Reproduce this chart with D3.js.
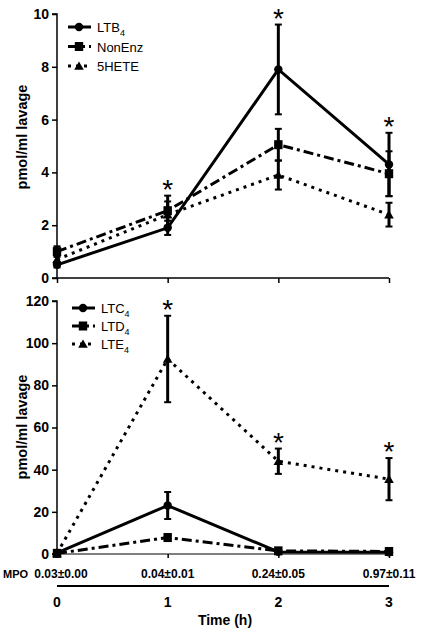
<!DOCTYPE html>
<html><head><meta charset="utf-8">
<script src="https://cdn.jsdelivr.net/npm/d3@7"></script>
<style>body{margin:0;background:#fff}svg{display:block}text{font-family:"Liberation Sans",Arial,sans-serif;font-weight:bold;fill:#000}</style>
</head><body><svg id="c" width="432" height="632"></svg>
<script>
const times = [0, 1, 2, 3];
const topTicks = [0, 2, 4, 6, 8, 10];
const bottomTicks = [0, 20, 40, 60, 80, 100, 120];
const mpoLabels = ["0.03\u00b10.00", "0.04\u00b10.01", "0.24\u00b10.05", "0.97\u00b10.11"];

const ltb4 = [0.5, 1.9, 7.9, 4.3];
const ltb4Err = [0.1, 0.27, 1.7, 1.2];
const nonEnz = [1.0, 2.55, 5.05, 3.95];
const nonEnzErr = [0.2, 0.57, 0.6, 0.85];
const hete5 = [0.7, 2.4, 3.9, 2.4];
const hete5Err = [0.15, 0.5, 0.55, 0.45];
const topSig = [false, true, true, true];

const ltc4 = [0.5, 23, 1.0, 0.8];
const ltc4Err = [0.3, 6.4, 0.5, 0.5];
const ltd4 = [0.3, 7.8, 1.5, 1.2];
const ltd4Err = [0.2, 1.5, 0.5, 0.5];
const lte4 = [0.3, 92.5, 44, 35.5];
const lte4Err = [0.2, 20.5, 6, 10];
const bottomSig = [false, true, true, true];

const svg = d3.select("#c");
const x = d3.scaleLinear().domain([0, 3]).range([57, 389]);
const yTop = d3.scaleLinear().domain([0, 10]).range([278, 14]);
const yBot = d3.scaleLinear().domain([0, 120]).range([554, 301]);

const styles = {
  solid: null,
  dashdot: "10,4,3,4",
  dot: "3,5"
};

function marker(g, type, cx, cy) {
  if (type === "circle") g.append("circle").attr("cx", cx).attr("cy", cy).attr("r", 4.2).attr("fill", "#000");
  else if (type === "square") g.append("rect").attr("x", cx - 4.2).attr("y", cy - 4.5).attr("width", 8.4).attr("height", 9).attr("fill", "#000");
  else g.append("path").attr("d", d3.symbol(d3.symbolTriangle, 40)()).attr("transform", `translate(${cx},${cy + 1})`).attr("fill", "#000");
}

function panel(y, ticks, series, sig, showTickDown, legendPos, axisW) {
  const g = svg.append("g");
  const ya = g.append("g").attr("transform", `translate(${x(0)},0)`)
    .call(d3.axisLeft(y).tickValues(ticks).tickSize(5).tickPadding(3).tickFormat(d3.format("d")));
  ya.select(".domain").attr("stroke-width", 1.5).attr("d", `M-5,${y(ticks[ticks.length-1])}H0V${y(0)}H-5`);
  ya.selectAll(".tick line").attr("stroke-width", 1.5);
  ya.selectAll("text").style("font-size", "14px").style("font-family", "Liberation Sans, Arial").style("font-weight", "bold");
  const xa = g.append("g").attr("transform", `translate(0,${y(0)})`)
    .call(d3.axisBottom(x).tickValues(times).tickSize(showTickDown).tickFormat(""));
  xa.select(".domain").attr("stroke-width", axisW).attr("d", `M${x(0)},0H${x(3)}`);
  xa.selectAll(".tick line").attr("stroke-width", 1.5);

  series.forEach(s => {
    const line = d3.line().x((d, i) => x(times[i])).y(d => y(d));
    g.append("path").datum(s.vals).attr("d", line).attr("fill", "none").attr("stroke", "#000")
      .attr("stroke-width", 3).attr("stroke-dasharray", styles[s.style]);
  });
  series.forEach(s => {
    s.vals.forEach((v, i) => {
      const cx = x(times[i]);
      const t = y(v + s.err[i]), b = y(v - s.err[i]);
      g.append("line").attr("x1", cx).attr("x2", cx).attr("y1", t).attr("y2", b).attr("stroke", "#000").attr("stroke-width", 3);
      [t, b].forEach(yy => g.append("line").attr("x1", cx - 3.5).attr("x2", cx + 3.5).attr("y1", yy).attr("y2", yy).attr("stroke", "#000").attr("stroke-width", 2));
      marker(g, s.marker, cx, y(v));
    });
  });
  times.forEach((t, i) => {
    if (!sig[i]) return;
    const top = d3.max(series, s => s.vals[i] + s.err[i]);
    g.append("text").attr("x", x(t)).attr("y", y(top) + 3).attr("text-anchor", "middle")
      .style("font-size", "28px").style("font-weight", "normal").text("*");
  });
  series.forEach((s, k) => {
    const ly = legendPos.y + k * legendPos.dy;
    g.append("line").attr("x1", legendPos.x).attr("x2", legendPos.x + 23).attr("y1", ly).attr("y2", ly)
      .attr("stroke", "#000").attr("stroke-width", 3).attr("stroke-dasharray", styles[s.style]);
    marker(g, s.marker, legendPos.x + 11, ly);
    const tx = g.append("text").attr("x", legendPos.x + 29).attr("y", ly + 5).style("font-size", "13px").style("font-weight", "normal");
    tx.append("tspan").text(s.name);
    if (s.sub) tx.append("tspan").attr("dy", 4).style("font-size", "9px").text(s.sub);
  });
  return g;
}

panel(yTop, topTicks, [
  {name: "LTB", sub: "4", vals: ltb4, err: ltb4Err, style: "solid", marker: "circle"},
  {name: "NonEnz", vals: nonEnz, err: nonEnzErr, style: "dashdot", marker: "square"},
  {name: "5HETE", vals: hete5, err: hete5Err, style: "dot", marker: "triangle"}
], topSig, 5, {x: 68, y: 27, dy: 19.5}, 1.5);

panel(yBot, bottomTicks, [
  {name: "LTC", sub: "4", vals: ltc4, err: ltc4Err, style: "solid", marker: "circle"},
  {name: "LTD", sub: "4", vals: ltd4, err: ltd4Err, style: "dashdot", marker: "square"},
  {name: "LTE", sub: "4", vals: lte4, err: lte4Err, style: "dot", marker: "triangle"}
], bottomSig, 4, {x: 72, y: 308, dy: 18}, 1);

[[22, 137], [22, 427]].forEach(([lx, ly]) => {
  svg.append("text").attr("transform", `translate(${lx},${ly}) rotate(-90)`).attr("text-anchor", "middle")
    .attr("dy", "0.35em").style("font-size", "14.5px").text("pmol/ml lavage");
});

svg.append("text").attr("x", 3).attr("y", 578).style("font-size", "11px").text("MPO");
mpoLabels.forEach((m, i) => {
  svg.append("text").attr("x", x(times[i]) + (i === 0 ? 4 : 0)).attr("y", 578).attr("text-anchor", "middle")
    .style("font-size", "12px").text(m);
});
svg.append("line").attr("x1", x(0)).attr("x2", x(3)).attr("y1", 586).attr("y2", 586).attr("stroke", "#000").attr("stroke-width", 2);
times.forEach(t => {
  svg.append("text").attr("x", x(t)).attr("y", 607).attr("text-anchor", "middle").style("font-size", "14px").text(t);
});
svg.append("text").attr("x", 225).attr("y", 625).attr("text-anchor", "middle").style("font-size", "14px").text("Time (h)");
</script></body></html>
